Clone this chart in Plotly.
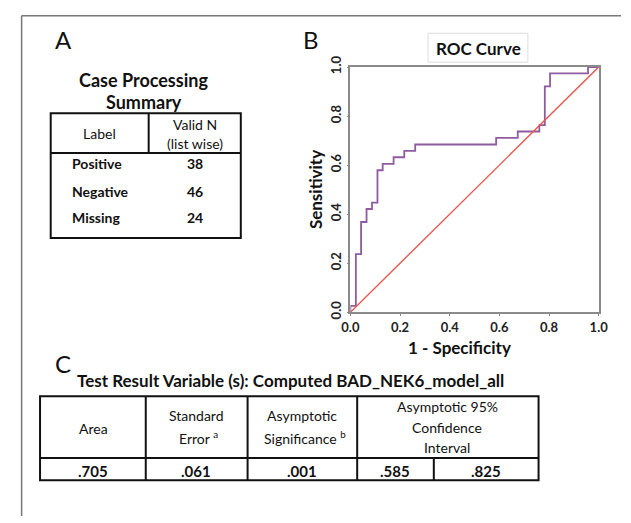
import plotly.graph_objects as go

W, H = 631, 523

# ---------------- data ----------------
fpr = [0, 0, 0.022, 0.043, 0.065, 0.087, 0.109, 0.130, 0.174, 0.217, 0.261,
       0.587, 0.674, 0.761, 0.783, 0.804, 0.957, 1.0]
tpr = [0, 0.026, 0.237, 0.368, 0.421, 0.447, 0.579, 0.605, 0.632, 0.658, 0.684,
       0.711, 0.737, 0.763, 0.921, 0.974, 1.0, 1.0]
ref_x = [0, 1]
ref_y = [0, 1]

case_labels = ["Positive", "Negative", "Missing"]
case_counts = ["38", "46", "24"]

auc_values = [".705", ".061", ".001", ".585", ".825"]

FONT = "Lato"

def X(px):
    return px / W

def Y(py):
    return 1 - py / H

fig = go.Figure()
fig.add_trace(go.Scatter(x=fpr, y=tpr, mode="lines", line_shape="hv",
                         line=dict(color="#8E5BA0", width=1.8), showlegend=False,
                         hoverinfo="skip"))
fig.add_trace(go.Scatter(x=ref_x, y=ref_y, mode="lines",
                         line=dict(color="#E8574F", width=1.4), showlegend=False,
                         hoverinfo="skip"))

shapes = []
anns = []

def line(x0, y0, x1, y1, color="#111", width=2):
    shapes.append(dict(type="line", xref="paper", yref="paper",
                       x0=X(x0), y0=Y(y0), x1=X(x1), y1=Y(y1),
                       line=dict(color=color, width=width)))

def rect(x0, y0, x1, y1, color="#111", width=2):
    shapes.append(dict(type="rect", xref="paper", yref="paper",
                       x0=X(x0), y0=Y(y0), x1=X(x1), y1=Y(y1),
                       line=dict(color=color, width=width), fillcolor="rgba(0,0,0,0)"))

def text(s, x, y, size=13, bold=False, xanchor="center", angle=0, color="#111"):
    anns.append(dict(text=s, xref="paper", yref="paper", x=X(x), y=Y(y),
                     xanchor=xanchor, yanchor="middle", showarrow=False,
                     textangle=angle, borderpad=0,
                     font=dict(family=FONT, size=size, color=color,
                               weight="bold" if bold else "normal")))

# outer frame (top and left)
line(13, 5, 631, 5, color="#777", width=1.5)
line(13, 5, 13, 523, color="#777", width=1.5)

# panel letters
text("A", 56, 29, size=24)
text("B", 311, 29, size=24)
text("C", 56, 365, size=24)

# ---------------- Table A ----------------
text("Case Processing", 139, 71, size=18, bold=True)
text("Summary", 139, 94, size=18, bold=True)
rect(43, 106, 239, 235)
line(43, 147, 239, 147)
line(144, 106, 144, 147)
text("Label", 93, 127, size=14)
text("Valid N", 192, 118, size=14)
text("(list wise)", 192, 137, size=14)
row_y = [158, 187, 214]
for lab, cnt, yy in zip(case_labels, case_counts, row_y):
    text(lab, 64, yy, size=14, bold=True, xanchor="left")
    text(cnt, 192, yy, size=14, bold=True)

# ---------------- Panel B extras ----------------
rect(432, 23, 535, 53, color="#dddddd", width=1)
text("ROC Curve", 484, 39, size=17, bold=True)
text("Sensitivity", 316, 185, size=17, bold=True, angle=-90)
text("1 - Specificity", 464, 348, size=17, bold=True)

# ---------------- Table C ----------------
text("Test Result Variable (s): Computed BAD_NEK6_model_all", 290, 383, size=17, bold=True)
rect(32, 399, 546, 486)
line(32, 463, 546, 463)
for xv in [141, 246, 359]:
    line(xv, 399, xv, 486)
line(438, 463, 438, 486)
text("Area", 87, 432, size=14)
text("Standard", 193, 419, size=14)
text("Error <sup>a</sup>", 195, 442, size=14)
text("Asymptotic", 302, 419, size=14)
text("Significance <sup>b</sup>", 305, 442, size=14)
text("Asymptotic 95%", 452, 410, size=14)
text("Confidence", 452, 431, size=14)
text("Interval", 452, 452, size=14)
val_x = [87, 193, 302, 398, 492]
for v, xv in zip(auc_values, val_x):
    text(v, xv, 476, size=15, bold=True)

axis_common = dict(range=[0, 1], showgrid=False, zeroline=False,
                   showline=True, mirror=True, linecolor="#8a8a8a", linewidth=1.5,
                   ticks="outside", ticklen=2, tickcolor="#8a8a8a",
                   tickvals=[0, 0.2, 0.4, 0.6, 0.8, 1.0], tickformat=".1f",
                   tickfont=dict(family=FONT, size=13, color="#222", weight="bold"),
                   fixedrange=True)

fig.update_layout(
    width=W, height=H, margin=dict(l=0, r=0, t=0, b=0),
    paper_bgcolor="white", plot_bgcolor="white",
    xaxis=dict(domain=[X(352), X(608)], **axis_common),
    yaxis=dict(domain=[Y(312), Y(58)], tickangle=-90, **axis_common),
    shapes=shapes, annotations=anns, showlegend=False,
)

fig.write_html("out.html")
